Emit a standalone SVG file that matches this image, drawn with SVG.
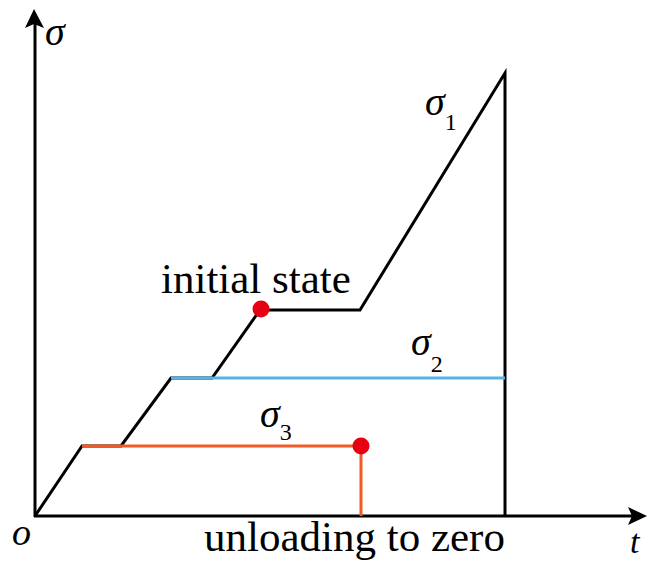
<svg xmlns="http://www.w3.org/2000/svg" width="649" height="561" viewBox="0 0 649 561">
<style>
.ax{stroke:#000;stroke-width:3;fill:none}
.blk{stroke:#000;stroke-width:3;fill:none;stroke-linejoin:miter}
.org{stroke:#F05A28;stroke-width:3;fill:none}
.blu{stroke:#58B4E6;stroke-width:3;fill:none}
.dot{fill:#E60012}
.t{font-family:"Liberation Serif","Times New Roman",serif;fill:#000}
.it{font-style:italic}
</style>
<rect width="649" height="561" fill="#fff"/>
<g id="axes">
<line class="ax" x1="35" y1="517" x2="35" y2="24"/>
<path d="M34,9 L44,28 L34,24 L25,28 Z" fill="#000"/>
<line class="ax" x1="34" y1="516" x2="632" y2="516"/>
<path d="M647,516 L628,507 L632,516 L628,525 Z" fill="#000"/>
<text class="t it" x="45" y="45" font-size="40">σ</text>
<text class="t it" x="12" y="545" font-size="38">o</text>
<text class="t it" x="630" y="553" font-size="34">t</text>
</g>
<g id="connectors">
<path class="blk" d="M35,516 L82,446 L121,446 L171,378 L212,378 L260,310 L360,310 L505,73 L505,516"/>
<path class="org" d="M82,446 L361,446 L361,516"/>
<path class="blu" d="M171,378 L505,378"/>
</g>
<g id="sigma1">
<text class="t" x="425" y="115" font-size="40"><tspan class="it">σ</tspan><tspan font-size="24" dy="15">1</tspan></text>
</g>
<g id="sigma2">
<text class="t" x="411" y="355" font-size="40"><tspan class="it">σ</tspan><tspan font-size="24" dy="17">2</tspan></text>
</g>
<g id="sigma3">
<text class="t" x="260" y="427" font-size="40"><tspan class="it">σ</tspan><tspan font-size="24" dy="13">3</tspan></text>
</g>
<g id="initial-state">
<circle class="dot" cx="261" cy="309" r="8.5"/>
<text class="t" x="161" y="293" font-size="43">initial state</text>
</g>
<g id="end-state">
<circle class="dot" cx="361" cy="446" r="8.5"/>
</g>
<g id="unloading">
<text class="t" x="204" y="551" font-size="43">unloading to zero</text>
</g>
</svg>
